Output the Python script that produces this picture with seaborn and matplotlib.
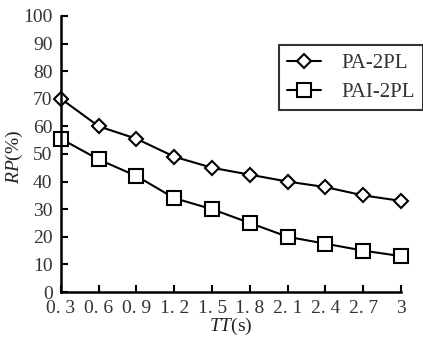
import matplotlib
matplotlib.use("Agg")
import matplotlib.pyplot as plt
import seaborn as sns
import pandas as pd
from matplotlib.lines import Line2D

tt = [0.3, 0.6, 0.9, 1.2, 1.5, 1.8, 2.1, 2.4, 2.7, 3.0]
tt_labels = ["0. 3", "0. 6", "0. 9", "1. 2", "1. 5", "1. 8", "2. 1", "2. 4", "2. 7", "3"]
pa_2pl = [70, 60, 55.5, 49, 45, 42.5, 40, 38, 35, 33]
pai_2pl = [55.5, 48, 42, 34, 30, 25, 20, 17.5, 15, 13]
series_names = ["PA-2PL", "PAI-2PL"]
y_ticks = [0, 10, 20, 30, 40, 50, 60, 70, 80, 90, 100]

df = pd.DataFrame({
    "TT": tt * 2,
    "RP": pa_2pl + pai_2pl,
    "method": [series_names[0]] * len(tt) + [series_names[1]] * len(tt),
})

sns.set_style("ticks")
plt.rcParams["font.family"] = ["Liberation Serif", "DejaVu Serif"]
plt.rcParams["mathtext.fontset"] = "custom"
plt.rcParams["mathtext.it"] = "Liberation Serif:italic"
plt.rcParams["mathtext.rm"] = "Liberation Serif"

fig = plt.figure(figsize=(4.23, 3.38), dpi=100)
ax = fig.add_axes([0.144, 0.136, 0.804, 0.817])

sns.lineplot(data=df, x="TT", y="RP", hue="method", style="method",
             markers={"PA-2PL": "D", "PAI-2PL": "s"}, dashes=False,
             palette={"PA-2PL": "black", "PAI-2PL": "black"},
             linewidth=1.5, ax=ax, legend=False,
             markerfacecolor="white", markeredgecolor="black",
             markeredgewidth=1.5)
for line, ms in zip(ax.get_lines(), [7.2, 9.5]):
    line.set_markersize(ms)
    line.set_clip_on(False)

ax.set_xlim(0.3, 3.0)
ax.set_ylim(0, 100)
ax.set_xticks(tt)
ax.set_xticklabels(tt_labels)
ax.set_yticks(y_ticks)
ax.tick_params(direction="in", length=5, width=1.5, labelsize=14, colors="black",
               labelcolor="#333333")
ax.tick_params(axis="x", pad=6)
ax.tick_params(axis="y", pad=6)
for s in ["top", "right"]:
    ax.spines[s].set_visible(False)
for s in ["left", "bottom"]:
    ax.spines[s].set_linewidth(1.8)
    ax.spines[s].set_color("black")

ax.set_xlabel("$TT$(s)", fontsize=14, color="#222222", va="center", ha="center")
ax.set_ylabel("$RP$(%)", fontsize=14, color="#222222", va="center", ha="center")
ax.xaxis.set_label_coords(0.5, (292 - 326) / 276)
ax.yaxis.set_label_coords((15 - 61) / 340, (292 - 157) / 276)

handles = [
    Line2D([], [], color="black", lw=1.5, marker="D", markersize=7.2,
           markerfacecolor="white", markeredgewidth=1.5),
    Line2D([], [], color="black", lw=1.5, marker="s", markersize=9.5,
           markerfacecolor="white", markeredgewidth=1.5),
]
leg = ax.legend(handles, series_names, loc="upper left",
                bbox_to_anchor=(279 / 423, 1 - 45 / 338), bbox_transform=fig.transFigure,
                fontsize=15, frameon=True, fancybox=False, edgecolor="black",
                handlelength=1.6, handletextpad=1.0, borderpad=0.4,
                labelspacing=0.45, borderaxespad=0)
leg.get_frame().set_linewidth(1.5)
for t in leg.get_texts():
    t.set_color("#333333")

fig.savefig("out.png", dpi=100)
